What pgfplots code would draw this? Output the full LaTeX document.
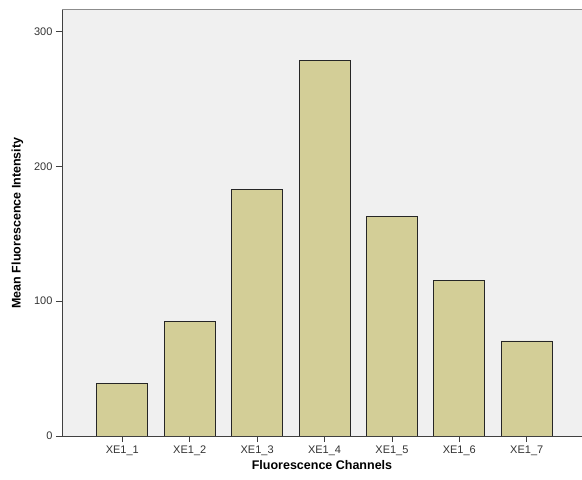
\documentclass[border=0pt]{standalone}
\usepackage{pgfplots}
\pgfplotsset{compat=1.18}
\usepackage{fontspec}
\setmainfont{Liberation Sans}
\definecolor{bgc}{HTML}{F0F0F0}
\definecolor{barc}{HTML}{D3CE97}
\definecolor{axc}{HTML}{404040}
\begin{document}
\begin{tikzpicture}[x=1pt,y=1pt]
\begin{axis}[
  scale only axis,
  width=520pt, height=426pt,
  at={(62pt,44pt)}, anchor=south west,
  xmin=0.105, xmax=7.82,
  ymin=0, ymax=316,
  axis x line=bottom, axis y line=left,
  axis line style={axc, thick, -},
  axis background/.style={fill=bgc},
  ybar, bar width=51pt,
  xtick={1,...,7},
  xticklabels={XE1\_1,XE1\_2,XE1\_3,XE1\_4,XE1\_5,XE1\_6,XE1\_7},
  ytick={0,100,200,300},
  xtick align=outside, ytick align=outside,
  major tick length=6pt,
  xtick style={draw=axc, thick},
  ytick style={draw=axc, thick},
  ticklabel style={font=\fontsize{11}{13}\selectfont, text=black!80},
  /pgf/number format/assume math mode=true,
  xlabel={\textbf{Fluorescence Channels}},
  ylabel={\textbf{Mean Fluorescence Intensity}},
  label style={font=\fontsize{12.5}{14}\selectfont},
  xlabel style={yshift=2pt},
  ylabel style={yshift=4pt},
  axis on top,
  clip=false,
]
\addplot[fill=barc, draw=black!85, line width=0.9pt] coordinates {
  (1,39.1) (2,85.3) (3,183.2) (4,278.4) (5,162.5) (6,115.7) (7,70.5)
};
\draw[black!45, line width=1pt] (rel axis cs:0,1) -- (rel axis cs:1,1);
\end{axis}
\pgfresetboundingbox
\path[use as bounding box] (0,0) rectangle (582,480);
\end{tikzpicture}
\end{document}
